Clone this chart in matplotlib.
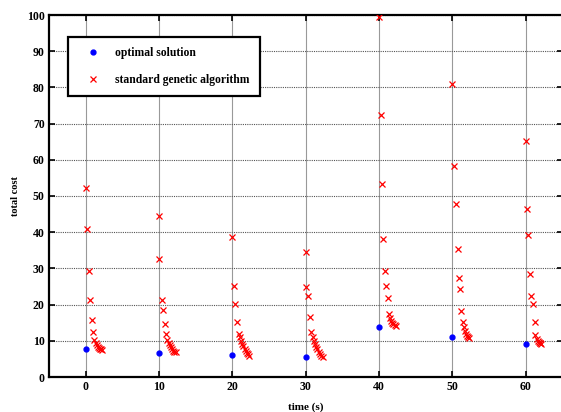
import matplotlib
matplotlib.use('Agg')
import matplotlib.pyplot as plt

# ---- data ----
times = [0, 10, 20, 30, 40, 50, 60]
opt_cost = [7.6, 6.7, 6.0, 5.5, 13.9, 11.0, 9.0]

# time offset of each GA iteration inside a window, and its cost
ga_dt = [
    [0, 0.2, 0.4, 0.65, 0.8, 1.0, 1.2, 1.35, 1.5, 1.65, 1.8, 1.95, 2.1, 2.25],
    [0, 0.05, 0.35, 0.6, 0.8, 1.0, 1.1, 1.3, 1.5, 1.65, 1.8, 1.95, 2.1, 2.25],
    [0, 0.2, 0.4, 0.6, 0.85, 1.0, 1.2, 1.35, 1.5, 1.7, 1.85, 2.0, 2.15, 2.3],
    [0, 0.1, 0.35, 0.55, 0.75, 0.95, 1.1, 1.3, 1.45, 1.6, 1.8, 1.95, 2.1, 2.3],
    [0, 0.2, 0.4, 0.55, 0.75, 0.95, 1.2, 1.3, 1.45, 1.6, 1.8, 1.95, 2.1, 2.3],
    [0, 0.2, 0.5, 0.7, 0.9, 1.0, 1.2, 1.45, 1.6, 1.75, 1.9, 2.0, 2.15, 2.3],
    [0, 0.2, 0.35, 0.6, 0.75, 0.95, 1.2, 1.3, 1.5, 1.65, 1.8, 1.9, 2.0, 2.1],
]
ga_cost = [
    [52.2, 41.0, 29.3, 21.3, 15.8, 12.4, 10.2, 9.5, 8.9, 8.4, 8.0, 7.8, 7.6, 7.5],
    [44.5, 32.5, 21.3, 18.4, 14.6, 12.0, 10.3, 9.5, 8.8, 8.2, 7.7, 7.3, 7.0, 6.8],
    [38.6, 25.2, 20.1, 15.2, 12.0, 11.0, 10.0, 9.2, 8.5, 7.8, 7.2, 6.7, 6.3, 5.9],
    [34.4, 24.9, 22.4, 16.7, 12.3, 11.0, 10.0, 9.0, 8.3, 7.6, 7.0, 6.4, 5.9, 5.5],
    [99.5, 72.4, 53.4, 38.2, 29.3, 25.1, 21.7, 17.4, 16.2, 15.5, 15.0, 14.6, 14.3, 14.1],
    [80.9, 58.3, 47.8, 35.3, 27.3, 24.2, 18.3, 15.1, 13.8, 12.8, 12.0, 11.4, 11.0, 10.7],
    [65.1, 46.3, 39.3, 28.4, 22.4, 20.2, 15.3, 11.6, 10.6, 10.0, 9.7, 9.5, 9.3, 9.2],
]

plt.rcParams['font.family'] = ['Liberation Serif', 'DejaVu Serif']
plt.rcParams['font.weight'] = 'bold'

fig = plt.figure(figsize=(5.61, 4.12), dpi=100)
# right spine sits just past the image edge in the reference
ax = fig.add_axes([49/561, 1 - 377/412, (562.5 - 49)/561, (377 - 15)/412])

ga_x, ga_y = [], []
for t, dts, cs in zip(times, ga_dt, ga_cost):
    for d, c in zip(dts, cs):
        ga_x.append(t + d)
        ga_y.append(c)

ax.plot(times, opt_cost, 'o', color='blue', markersize=3.5, linestyle='none',
        label='optimal solution', zorder=3)
ax.plot(ga_x, ga_y, 'x', color='red', markersize=5, markeredgewidth=0.9,
        linestyle='none', label='standard genetic algorithm', zorder=3)

ax.set_xlim(-5, 65)
ax.set_ylim(0, 100)
ax.set_xticks(range(0, 61, 10))
ax.set_yticks(range(0, 101, 10))
# vertical grid looks solid light grey, horizontal grid dotted darker
ax.xaxis.grid(True, color='#999999', linestyle='-', linewidth=0.8)
ax.yaxis.grid(True, color='#555555', linestyle=(0, (1, 1)), linewidth=0.8)
ax.tick_params(direction='in', top=True, right=True, length=4, width=1.2,
               labelsize=8.5, pad=3)
for lbl in ax.get_xticklabels() + ax.get_yticklabels():
    lbl.set_fontweight('bold')
for sp in ax.spines.values():
    sp.set_linewidth(1.6)

ax.set_xlabel('time (s)', fontsize=8, fontweight='bold', labelpad=7)
ax.set_ylabel('total cost', fontsize=7.5, fontweight='bold', labelpad=5)

leg = ax.legend(loc='upper left', bbox_to_anchor=(68/561, 1 - 37/412),
                bbox_transform=fig.transFigure, prop={'size': 8.4, 'weight': 'bold'},
                fancybox=False, framealpha=1, edgecolor='black',
                borderpad=0.85, labelspacing=1.3, handlelength=2.6,
                handletextpad=0.6, borderaxespad=0)
leg.get_frame().set_linewidth(1.6)

fig.savefig('out.png', dpi=100)
